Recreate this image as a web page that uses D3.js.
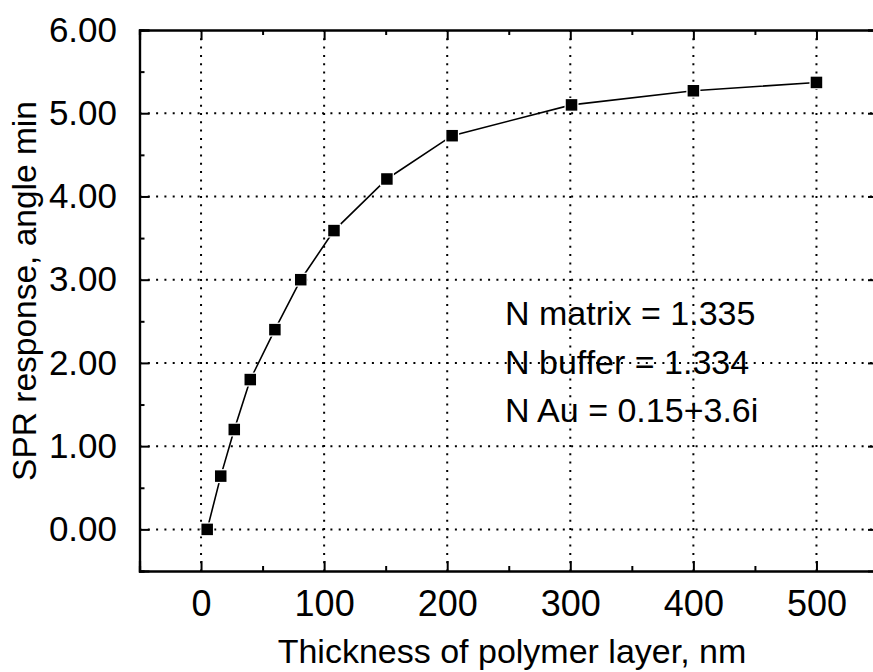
<!DOCTYPE html>
<html>
<head>
<meta charset="utf-8">
<script src="https://cdn.jsdelivr.net/npm/d3@7"></script>
<style>
  html, body { margin: 0; padding: 0; background: #fff; }
  svg { display: block; font-family: "Liberation Sans", Arial, sans-serif; }
</style>
</head>
<body>
<div id="chart"></div>
<script>
// values
const thickness = [5, 16, 27, 40, 60, 81, 108, 151, 204, 301, 400, 500];
const response = [0.0, 0.64, 1.2, 1.8, 2.4, 3.0, 3.59, 4.21, 4.73, 5.1, 5.27, 5.37];
const xTicks = [0, 100, 200, 300, 400, 500];
const xMinor = [-50, 50, 150, 250, 350, 450, 550];
const yTicks = [0, 1, 2, 3, 4, 5, 6];
const yMinor = [-0.5, 0.5, 1.5, 2.5, 3.5, 4.5, 5.5];
const notes = ["N matrix = 1.335", "N buffer = 1.334", "N Au = 0.15+3.6i"];

(() => {
  const width = 873;
  const height = 672;
  const margin = { top: 30, bottom: 101, left: 139.5, right: -5 };

  const svg = d3
    .select("#chart")
    .append("svg")
    .attr("width", width)
    .attr("height", height);

  const x = d3
    .scaleLinear()
    .domain([-50, 550])
    .range([margin.left, width - margin.right]);

  const y = d3
    .scaleLinear()
    .domain([-0.5, 6])
    .range([height - margin.bottom, margin.top]);

  // dotted grid
  const grid = svg.append("g").attr("stroke", "#000").attr("stroke-width", 2)
    .attr("stroke-dasharray", "2,6.3");
  grid.selectAll("line.vx")
    .data(xTicks)
    .join("line")
    .attr("class", "vx")
    .attr("x1", (d) => x(d)).attr("x2", (d) => x(d))
    .attr("y1", y(6)).attr("y2", y(-0.5));
  grid.selectAll("line.hy")
    .data(yTicks.filter((d) => d < 6))
    .join("line")
    .attr("class", "hy")
    .attr("x1", x(-50)).attr("x2", x(550))
    .attr("y1", (d) => y(d)).attr("y2", (d) => y(d));

  // axes, ticks pointing inward
  const bottomAxis = svg.append("g")
    .attr("transform", `translate(0, ${y(-0.5)})`)
    .call(d3.axisBottom(x).tickValues(xTicks).tickSize(-10).tickPadding(19).tickFormat(d3.format("d")));
  bottomAxis.append("g").call(d3.axisBottom(x).tickValues(xMinor).tickSize(-5).tickFormat(""));

  const topAxis = svg.append("g")
    .attr("transform", `translate(0, ${y(6)})`)
    .call(d3.axisTop(x).tickValues(xTicks).tickSize(-10).tickFormat(""));
  topAxis.append("g").call(d3.axisTop(x).tickValues(xMinor).tickSize(-5).tickFormat(""));

  const leftAxis = svg.append("g")
    .attr("transform", `translate(${x(-50)}, 0)`)
    .call(d3.axisLeft(y).tickValues(yTicks).tickSize(-10).tickPadding(19).tickFormat(d3.format(".2f")));
  leftAxis.append("g").call(d3.axisLeft(y).tickValues(yMinor).tickSize(-5).tickFormat(""));

  const rightAxis = svg.append("g")
    .attr("transform", `translate(${x(550)}, 0)`)
    .call(d3.axisRight(y).tickValues(yTicks).tickSize(-10).tickFormat(""));
  rightAxis.append("g").call(d3.axisRight(y).tickValues(yMinor).tickSize(-5).tickFormat(""));

  svg.selectAll(".domain").attr("stroke-width", 2.2);
  svg.selectAll(".tick line").attr("stroke-width", 2);
  svg.selectAll(".tick text")
    .attr("font-size", 35)
    .attr("font-family", "Liberation Sans, Arial, sans-serif")
    .attr("fill", "#000");
  bottomAxis.selectAll(".tick text").attr("font-size", 36).attr("dy", "0.72em");
  leftAxis.selectAll(".tick text").attr("dx", "-0.1em");

  // data line and square markers
  const data = thickness.map((t, i) => ({ t: t, r: response[i] }));
  const line = d3.line().x((d) => x(d.t)).y((d) => y(d.r));
  svg.append("path")
    .datum(data)
    .attr("fill", "none")
    .attr("stroke", "#000")
    .attr("stroke-width", 1.6)
    .attr("d", line);

  const s = 11.5;
  svg.append("g")
    .selectAll("rect")
    .data(data)
    .join("rect")
    .attr("x", (d) => x(d.t) - s / 2)
    .attr("y", (d) => y(d.r) - s / 2)
    .attr("width", s)
    .attr("height", s)
    .attr("fill", "#000")
    .attr("stroke", "#fff")
    .attr("stroke-width", 2.5)
    .attr("paint-order", "stroke");

  // annotation
  svg.append("g")
    .selectAll("text")
    .data(notes)
    .join("text")
    .attr("x", 505)
    .attr("y", (d, i) => 325 + i * 48.5)
    .attr("font-size", 34)
    .attr("fill", "#000")
    .text((d) => d);

  // axis titles
  svg.append("text")
    .attr("x", 512)
    .attr("y", 663)
    .attr("text-anchor", "middle")
    .attr("font-size", 34)
    .text("Thickness of polymer layer, nm");

  svg.append("text")
    .attr("transform", "translate(36, 291) rotate(-90)")
    .attr("text-anchor", "middle")
    .attr("font-size", 33.5)
    .text("SPR response, angle min");
})();
</script>
</body>
</html>
